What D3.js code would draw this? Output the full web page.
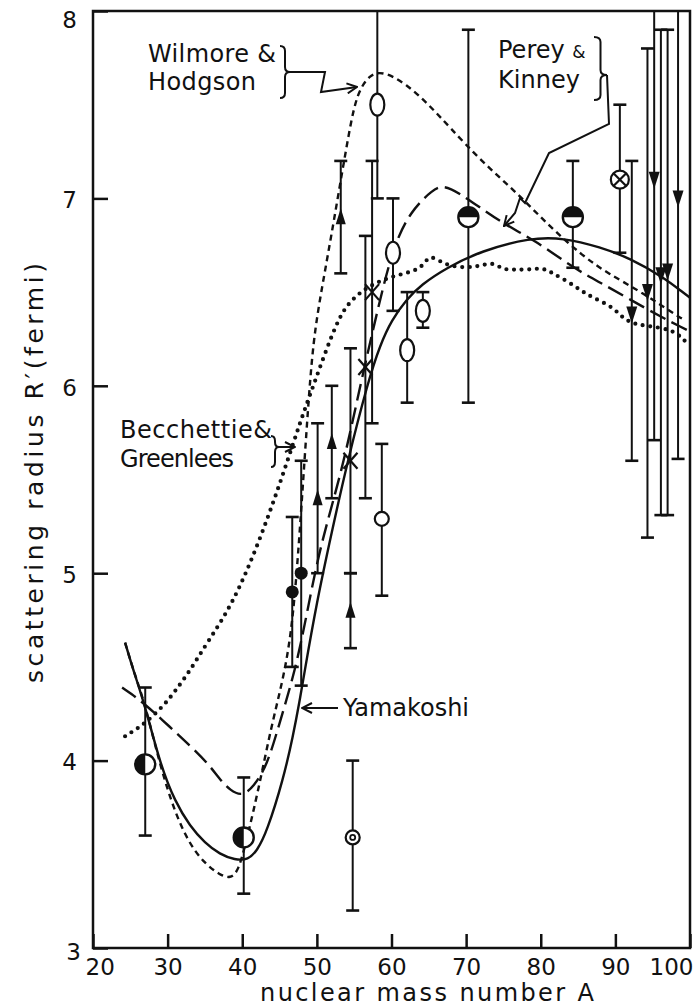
<!DOCTYPE html>
<html>
<head>
<meta charset="utf-8">
<script src="https://cdn.jsdelivr.net/npm/d3@7"></script>
<style>
body { margin: 0; background: #fff; }
text { font-family: "DejaVu Sans", sans-serif; fill: #111; }
</style>
</head>
<body>
<svg id="chart" width="699" height="1008"></svg>
<script>
var xTicks = [20, 30, 40, 50, 60, 70, 80, 90, 100];
var yTicks = [3, 4, 5, 6, 7, 8];

// curves, [A, R'(fermi)]
var yamakoshi = [[24.3,4.63],[25.5,4.47],[27,4.29],[29,3.98],[31,3.78],[33,3.65],[35,3.56],[37,3.5],[39,3.47],[40.8,3.47],[42,3.52],[43.3,3.62],[45.5,3.9],[46.8,4.13],[47.7,4.32],[48.2,4.44],[50,4.85],[52,5.22],[54,5.58],[56.9,6.03],[58.5,6.22],[60,6.35],[62,6.46],[64,6.54],[67.4,6.63],[72,6.72],[78.6,6.79],[83,6.79],[88,6.74],[92,6.68],[96.4,6.58],[99,6.5],[100,6.47]];
var wilmoreHodgson = [[24.3,4.63],[25.5,4.47],[27,4.3],[29,3.97],[31,3.72],[33,3.55],[35,3.45],[37,3.39],[38.4,3.37],[39.5,3.41],[40.6,3.58],[41.5,3.73],[42.6,3.93],[44,4.2],[45.7,4.47],[46.8,4.75],[47.7,5.21],[48.7,5.82],[49.5,6.25],[50.8,6.55],[52.2,6.86],[54.4,7.38],[55.4,7.56],[57,7.66],[58.9,7.68],[62,7.61],[65,7.5],[67.8,7.38],[72,7.2],[76.8,7.03],[81.2,6.85],[85.7,6.69],[89,6.6],[93.5,6.5],[98,6.38],[99.3,6.35]];
var pereyKinney = [[23.9,4.39],[25,4.36],[27,4.3],[30.3,4.18],[33,4.08],[35.3,3.99],[37,3.9],[38.4,3.84],[40,3.81],[41.5,3.86],[43.3,3.97],[45,4.2],[47.1,4.48],[48.7,4.79],[50.4,5.14],[53.4,5.55],[55.8,6.0],[58.1,6.4],[60.2,6.74],[62.5,6.93],[65.6,7.05],[67,7.07],[69,7.03],[71.9,6.95],[75.2,6.86],[79.5,6.77],[84.3,6.63],[88,6.55],[92,6.46],[96,6.37],[99,6.31],[100,6.29]];
var becchettiGreenlees = [[24.3,4.13],[25.5,4.16],[27,4.2],[29.4,4.29],[31,4.37],[33,4.48],[35.3,4.63],[38.8,4.84],[42.4,5.18],[45.5,5.53],[47.7,5.8],[49.7,6.02],[52.7,6.35],[54.4,6.45],[56.5,6.52],[58.5,6.56],[60.7,6.59],[62.9,6.61],[64.2,6.64],[64.8,6.68],[65.6,6.69],[67.4,6.64],[70.1,6.63],[71.9,6.64],[73.6,6.66],[74.9,6.62],[76.3,6.62],[78.6,6.62],[80.3,6.63],[81.6,6.6],[83.5,6.56],[85.3,6.51],[87,6.47],[89.7,6.42],[91,6.36],[92.5,6.33],[94.2,6.32],[97.7,6.3],[99,6.25],[99.6,6.23]];

// measured points: a = A, r = R', lo/hi = error bar ends
var halfLeftPts = [{a:27,r:3.98,lo:3.6,hi:4.39},{a:40.2,r:3.59,lo:3.29,hi:3.91}];
var filledPts = [{a:46.7,r:4.9,lo:4.5,hi:5.3},{a:47.9,r:5.0,lo:4.4,hi:5.6}];
var triUpPts = [{a:50.1,r:5.4,lo:5.0,hi:5.8},{a:52.0,r:5.7,lo:5.4,hi:6.0},{a:53.2,r:6.9,lo:6.6,hi:7.2},{a:54.5,r:4.8,lo:4.6,hi:5.0}];
var crossPts = [{a:54.5,r:5.6,lo:5.0,hi:6.2},{a:56.5,r:6.1,lo:5.4,hi:6.8},{a:57.4,r:6.5,lo:5.8,hi:7.2}];
var ovalPts = [{a:58.1,r:7.5,lo:7.0,hi:8.3},{a:60.2,r:6.71,lo:6.4,hi:7.0},{a:62.1,r:6.19,lo:5.91,hi:6.5},{a:64.2,r:6.4,lo:6.31,hi:6.5}];
var openPts = [{a:58.7,r:5.29,lo:4.88,hi:5.69}];
var bullseyePts = [{a:54.8,r:3.59,lo:3.2,hi:4.0}];
var halfTopPts = [{a:70.3,r:6.9,lo:5.91,hi:7.9},{a:84.3,r:6.9,lo:6.63,hi:7.2}];
var crossCirclePts = [{a:90.6,r:7.1,lo:6.71,hi:7.5}];
var triDownPts = [{a:92.2,r:6.38,lo:5.6,hi:7.2},{a:94.3,r:6.5,lo:5.19,hi:7.8},{a:95.2,r:7.1,lo:5.71,hi:8.3},{a:96.1,r:6.59,lo:5.31,hi:7.9},{a:97.0,r:6.61,lo:5.31,hi:7.9},{a:98.4,r:7.0,lo:5.61,hi:8.3}];

var svg = d3.select("#chart");
var ink = "#111";

var x = d3.scaleLinear().domain([20, 100]).range([93, 690]);
var y = d3.scaleLinear().domain([3, 8]).range([948, 11]);

var defs = svg.append("defs");
defs.append("clipPath").attr("id", "plotClip")
    .append("rect")
    .attr("x", x(20)).attr("y", y(8))
    .attr("width", x(100) - x(20)).attr("height", y(3) - y(8));

defs.append("marker")
    .attr("id", "arrow")
    .attr("viewBox", "0 0 12 12")
    .attr("refX", 11).attr("refY", 6)
    .attr("markerWidth", 12).attr("markerHeight", 12)
    .attr("markerUnits", "userSpaceOnUse")
    .attr("orient", "auto")
    .append("path")
    .attr("d", "M1,1 L11,6 L1,11")
    .attr("fill", "none")
    .attr("stroke", ink)
    .attr("stroke-width", 2);

// axes (ticks point inward)
var yAxis = d3.axisLeft(y).tickValues(yTicks).tickSizeInner(-15).tickSizeOuter(0).tickPadding(16).tickFormat(d3.format("d"));
var xAxis = d3.axisBottom(x).tickValues(xTicks).tickSizeInner(-14).tickSizeOuter(0).tickPadding(11).tickFormat(d3.format("d"));

var gy = svg.append("g").attr("transform", "translate(" + x(20) + ",0)").call(yAxis);
var gx = svg.append("g").attr("transform", "translate(0," + y(3) + ")").call(xAxis);
[gx, gy].forEach(function(g){
    g.select(".domain").remove();
    g.selectAll("line").attr("stroke", ink).attr("stroke-width", 2.5);
    g.selectAll("text")
        .attr("font-family", null)
        .style("font-family", "'DejaVu Sans', sans-serif")
        .style("font-size", "23px")
        .attr("fill", ink);
});
gy.selectAll("text")
    .attr("x", function(d){ return d === 3 ? -12 : -16; })
    .attr("dy", function(d){ return d === 3 ? "0.5em" : (d === 8 ? "0.7em" : "0.4em"); });
gx.selectAll("text")
    .attr("text-anchor", function(d){ return d === 20 ? "start" : (d === 100 ? "end" : "middle"); })
    .attr("x", function(d){ return d === 20 ? -8 : (d === 100 ? 3 : 0); });

// frame
svg.append("rect")
    .attr("x", x(20)).attr("y", y(8))
    .attr("width", x(100) - x(20)).attr("height", y(3) - y(8))
    .attr("fill", "none").attr("stroke", ink).attr("stroke-width", 2.5);

// axis titles
svg.append("text")
    .attr("x", 260).attr("y", 1001)
    .attr("textLength", 334).attr("lengthAdjust", "spacing")
    .style("font-size", "24px")
    .text("nuclear mass number  A");

svg.append("text")
    .attr("transform", "translate(43,683) rotate(-90)")
    .attr("textLength", 420).attr("lengthAdjust", "spacing")
    .style("font-size", "25px")
    .text("scattering radius R′(fermi)");

var plot = svg.append("g").attr("clip-path", "url(#plotClip)");

// curves
var line = d3.line()
    .x(function(d){ return x(d[0]); })
    .y(function(d){ return y(d[1]); })
    .curve(d3.curveBasis);

plot.append("path").datum(yamakoshi)
    .attr("d", line).attr("fill", "none").attr("stroke", ink).attr("stroke-width", 2.4);
plot.append("path").datum(wilmoreHodgson)
    .attr("d", line).attr("fill", "none").attr("stroke", ink).attr("stroke-width", 2.4)
    .attr("stroke-dasharray", "6 4.5");
plot.append("path").datum(pereyKinney)
    .attr("d", line).attr("fill", "none").attr("stroke", ink).attr("stroke-width", 2.4)
    .attr("stroke-dasharray", "17 7");
plot.append("path").datum(becchettiGreenlees)
    .attr("d", line).attr("fill", "none").attr("stroke", ink).attr("stroke-width", 4.2)
    .attr("stroke-linecap", "round")
    .attr("stroke-dasharray", "0 7.6");

// error bars
var allPts = [].concat(halfLeftPts, filledPts, triUpPts, crossPts, ovalPts, openPts, bullseyePts, halfTopPts, crossCirclePts, triDownPts);
var bars = plot.append("g").attr("stroke", ink);
bars.selectAll(".bar").data(allPts).enter().append("line")
    .attr("x1", function(d){ return x(d.a); }).attr("x2", function(d){ return x(d.a); })
    .attr("y1", function(d){ return y(d.lo); }).attr("y2", function(d){ return y(d.hi); })
    .attr("stroke-width", 2);
bars.selectAll(".capHi").data(allPts.filter(function(d){ return d.hi < 8; })).enter().append("line")
    .attr("x1", function(d){ return x(d.a) - 6.5; }).attr("x2", function(d){ return x(d.a) + 6.5; })
    .attr("y1", function(d){ return y(d.hi); }).attr("y2", function(d){ return y(d.hi); })
    .attr("stroke-width", 2.6);
bars.selectAll(".capLo").data(allPts).enter().append("line")
    .attr("x1", function(d){ return x(d.a) - 6.5; }).attr("x2", function(d){ return x(d.a) + 6.5; })
    .attr("y1", function(d){ return y(d.lo); }).attr("y2", function(d){ return y(d.lo); })
    .attr("stroke-width", 2.6);

var marks = svg.append("g");
function place(sel){
    return sel.attr("transform", function(d){ return "translate(" + x(d.a) + "," + y(d.r) + ")"; });
}

// half filled (left) circles
var hl = place(marks.selectAll(".hl").data(halfLeftPts).enter().append("g"));
hl.append("circle").attr("r", 10).attr("fill", "#fff").attr("stroke", ink).attr("stroke-width", 2.4);
hl.append("path").attr("d", "M0,-10 A10,10 0 0 0 0,10 Z").attr("fill", ink);

// filled small circles
place(marks.selectAll(".fc").data(filledPts).enter().append("g"))
    .append("circle").attr("r", 6.5).attr("fill", ink);

// triangles
place(marks.selectAll(".tu").data(triUpPts).enter().append("g"))
    .append("path").attr("d", "M0,-9 L5,7 L-5,7 Z").attr("fill", ink);
place(marks.selectAll(".td").data(triDownPts).enter().append("g"))
    .append("path").attr("d", "M0,9 L5.5,-8 L-5.5,-8 Z").attr("fill", ink);

// crosses
var cr = place(marks.selectAll(".cr").data(crossPts).enter().append("g"))
    .attr("stroke", ink).attr("stroke-width", 2.2);
cr.append("line").attr("x1", -7).attr("y1", -8).attr("x2", 7).attr("y2", 8);
cr.append("line").attr("x1", -7).attr("y1", 8).attr("x2", 7).attr("y2", -8);

// ovals
place(marks.selectAll(".ov").data(ovalPts).enter().append("g"))
    .append("ellipse").attr("rx", 7).attr("ry", 11)
    .attr("fill", "#fff").attr("stroke", ink).attr("stroke-width", 2.2);

// open circle
place(marks.selectAll(".oc").data(openPts).enter().append("g"))
    .append("circle").attr("r", 7).attr("fill", "#fff").attr("stroke", ink).attr("stroke-width", 2.2);

// bullseye
var be = place(marks.selectAll(".be").data(bullseyePts).enter().append("g"));
be.append("circle").attr("r", 7).attr("fill", "#fff").attr("stroke", ink).attr("stroke-width", 2.2);
be.append("circle").attr("r", 2.5).attr("fill", "#fff").attr("stroke", ink).attr("stroke-width", 1.8);

// half filled (top) circles
var ht = place(marks.selectAll(".ht").data(halfTopPts).enter().append("g"));
ht.append("circle").attr("r", 10).attr("fill", "#fff").attr("stroke", ink).attr("stroke-width", 2.4);
ht.append("path").attr("d", "M-10,0 A10,10 0 0 1 10,0 Z").attr("fill", ink);

// circle with cross
var cc = place(marks.selectAll(".cc").data(crossCirclePts).enter().append("g"))
    .attr("stroke", ink).attr("stroke-width", 2.2);
cc.append("circle").attr("r", 9).attr("fill", "#fff");
cc.append("line").attr("x1", -6.4).attr("y1", -6.4).attr("x2", 6.4).attr("y2", 6.4);
cc.append("line").attr("x1", -6.4).attr("y1", 6.4).attr("x2", 6.4).attr("y2", -6.4);

// annotations
function brace(x0, y0, y1, ym, w){
    var xm = x0 + w / 2, r = 5;
    return "M" + x0 + "," + y0 +
        " Q" + xm + "," + y0 + " " + xm + "," + (y0 + r) +
        " L" + xm + "," + (ym - r) +
        " Q" + xm + "," + ym + " " + (x0 + w) + "," + ym +
        " Q" + xm + "," + ym + " " + xm + "," + (ym + r) +
        " L" + xm + "," + (y1 - r) +
        " Q" + xm + "," + y1 + " " + x0 + "," + y1;
}
var ann = svg.append("g");
function label(tx, ty, str, len){
    ann.append("text").attr("x", tx).attr("y", ty)
        .attr("textLength", len).attr("lengthAdjust", "spacing")
        .style("font-size", "24px").text(str);
}
var annStroke = function(p){ return p.attr("fill", "none").attr("stroke", ink).attr("stroke-width", 2); };

label(148, 62, "Wilmore &", 128);
label(148, 90, "Hodgson", 108);
annStroke(ann.append("path").attr("d", brace(280, 46, 98, 72, 10)));
annStroke(ann.append("path").attr("d", "M290,72 L325,72 L321,92 L357,87")).attr("marker-end", "url(#arrow)");

ann.append("text").attr("x", 498).attr("y", 58)
    .style("font-size", "24px")
    .text("Perey ")
    .append("tspan").style("font-size", "17px").text("&");
label(498, 88, "Kinney", 82);
annStroke(ann.append("path").attr("d", brace(594, 37, 100, 75, 13)));
annStroke(ann.append("path").attr("d", "M607,75 L609,124 L549,153 L525,203 L520,198 L515,213 L504,226")).attr("marker-end", "url(#arrow)");

label(120, 438, "Becchettie&", 152);
label(120, 467, "Greenlees", 114);
annStroke(ann.append("path").attr("d", brace(271, 436, 467, 447, 8)));
annStroke(ann.append("path").attr("d", "M279,447 L295,447")).attr("marker-end", "url(#arrow)");

label(343, 716, "Yamakoshi", 126);
annStroke(ann.append("path").attr("d", "M338,708 L302,708")).attr("marker-end", "url(#arrow)");
</script>
</body>
</html>
